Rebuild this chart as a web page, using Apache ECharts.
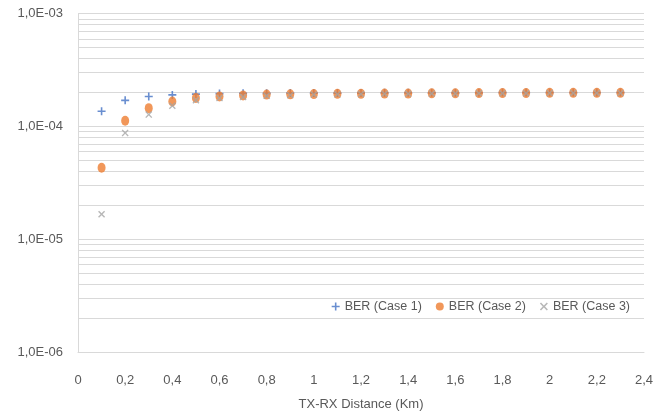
<!DOCTYPE html>
<html>
<head>
<meta charset="utf-8">
<script src="https://cdn.jsdelivr.net/npm/echarts@6/dist/echarts.min.js"></script>
<style>
  html, body { margin: 0; padding: 0; background: #fff; }
  #chart { width: 668px; height: 416px; }
</style>
</head>
<body>
<div id="chart"></div>
<script>
const distances = [0.1,0.2,0.3,0.4,0.5,0.6,0.7,0.8,0.9,1.0,1.1,1.2,1.3,1.4,1.5,1.6,1.7,1.8,1.9,2.0,2.1,2.2,2.3];
const berCase1 = [1.36e-4,1.70e-4,1.84e-4,1.90e-4,1.93e-4,1.95e-4,1.96e-4,1.96e-4,1.97e-4,1.97e-4,1.97e-4,1.97e-4,1.98e-4,1.98e-4,1.98e-4,1.98e-4,1.98e-4,1.99e-4,1.99e-4,1.99e-4,1.99e-4,1.99e-4,1.99e-4];
const berCase2 = [4.3e-5,1.12e-4,1.45e-4,1.66e-4,1.78e-4,1.84e-4,1.88e-4,1.91e-4,1.92e-4,1.93e-4,1.94e-4,1.94e-4,1.95e-4,1.95e-4,1.96e-4,1.96e-4,1.97e-4,1.97e-4,1.97e-4,1.98e-4,1.98e-4,1.98e-4,1.98e-4];
const berCase3 = [1.66e-5,8.75e-5,1.27e-4,1.52e-4,1.70e-4,1.78e-4,1.82e-4,1.87e-4,1.89e-4,1.91e-4,1.92e-4,1.93e-4,1.94e-4,1.94e-4,1.95e-4,1.95e-4,1.96e-4,1.96e-4,1.96e-4,1.97e-4,1.97e-4,1.97e-4,1.97e-4];
const seriesNames = ['BER (Case 1)', 'BER (Case 2)', 'BER (Case 3)'];
const xTickLabels = ['0','0,2','0,4','0,6','0,8','1','1,2','1,4','1,6','1,8','2','2,2','2,4'];
const yTickLabels = {'-6':'1,0E-06','-5':'1,0E-05','-4':'1,0E-04','-3':'1,0E-03'};
const minorMultipliers = [2,3,4,5,6,7,8,9];
const decadeStarts = [1e-6, 1e-5, 1e-4];

const minorLines = [];
decadeStarts.forEach(d => minorMultipliers.forEach(m => minorLines.push([m * d])));

const pts = arr => distances.map((x, i) => [x, arr[i]]);
const FONT = "'Liberation Sans', Arial, sans-serif";
const TXT = '#595959';
const GRID = '#D9D9D9';
const X_MIN = 0, X_MAX = 2.4;
const plusPath = 'path://M4,0H6V4H10V6H6V10H4V6H0V4H4Z';
const crossPath = 'path://M1.4,0L5,3.6L8.6,0L10,1.4L6.4,5L10,8.6L8.6,10L5,6.4L1.4,10L0,8.6L3.6,5L0,1.4Z';

const chart = echarts.init(document.getElementById('chart'), null, { renderer: 'canvas' });
chart.setOption({
  animation: false,
  backgroundColor: '#fff',
  grid: { left: 78, right: 24, top: 13.5, bottom: 61, containLabel: false },
  legend: {
    data: seriesNames,
    right: 33, top: 295,
    itemWidth: 8, itemHeight: 8, itemGap: 14,
    textStyle: { color: TXT, fontFamily: FONT, fontSize: 12.5 }
  },
  xAxis: {
    type: 'value', min: X_MIN, max: X_MAX, interval: 0.2,
    name: 'TX-RX Distance (Km)', nameLocation: 'middle', nameGap: 46,
    nameTextStyle: { color: TXT, fontFamily: FONT, fontSize: 13 },
    axisLine: { show: true, lineStyle: { color: GRID } },
    axisTick: { show: false },
    splitLine: { show: false },
    axisLabel: {
      color: TXT, fontFamily: FONT, fontSize: 13, margin: 22,
      formatter: v => xTickLabels[Math.round(v / 0.2)]
    }
  },
  yAxis: {
    type: 'log', logBase: 10, min: 1e-6, max: 1e-3,
    axisLine: { show: true, lineStyle: { color: GRID } },
    axisTick: { show: false },
    splitLine: { show: true, lineStyle: { color: GRID, width: 1 } },
    axisLabel: {
      color: TXT, fontFamily: FONT, fontSize: 13, margin: 15,
      formatter: v => yTickLabels[String(Math.round(Math.log10(v)))] || ''
    }
  },
  series: [
    {
      name: '_minorGrid', type: 'custom', z: 1, silent: true,
      encode: { y: 0 },
      data: minorLines,
      renderItem: (params, api) => {
        const v = api.value(0);
        const a = api.coord([X_MIN, v]);
        const b = api.coord([X_MAX, v]);
        const y = Math.round(a[1]) + 0.5;
        return {
          type: 'line',
          shape: { x1: a[0], y1: y, x2: b[0], y2: y },
          style: { stroke: GRID, lineWidth: 1 }
        };
      }
    },
    {
      name: seriesNames[0], type: 'scatter', z: 3,
      symbol: plusPath, symbolSize: 8,
      itemStyle: { color: '#4472C4' },
      data: pts(berCase1)
    },
    {
      name: seriesNames[1], type: 'scatter', z: 4,
      symbol: 'circle', symbolSize: [8, 10],
      itemStyle: { color: '#ED7D31' },
      data: pts(berCase2)
    },
    {
      name: seriesNames[2], type: 'scatter', z: 5,
      symbol: crossPath, symbolSize: 7,
      itemStyle: { color: '#A5A5A5' },
      data: pts(berCase3)
    }
  ]
});
</script>
</body>
</html>
